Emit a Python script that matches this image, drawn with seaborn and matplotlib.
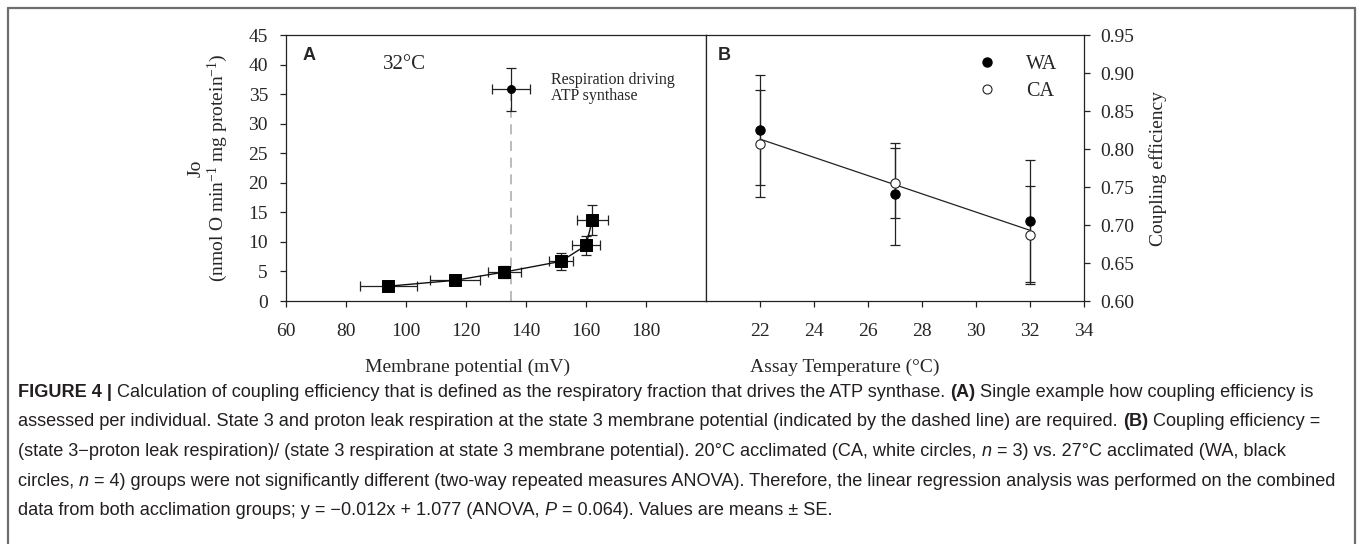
import matplotlib
matplotlib.use('Agg')
from matplotlib import pyplot as plt
from matplotlib.lines import Line2D
import pandas as pd
import seaborn as sns

# panel A: proton leak respiration vs membrane potential at 32 C
leak_mv = [94.0, 116.3, 132.8, 151.6, 160.0, 162.1]
leak_mv_se = [9.5, 8.3, 5.4, 3.9, 4.6, 5.1]
leak_jo = [2.5, 3.5, 4.9, 6.7, 9.4, 13.7]
leak_jo_se = [0.3, 0.5, 1.0, 1.45, 1.55, 2.6]
state3_mv = [134.9]
state3_mv_se = [6.4]
state3_jo = [35.8]
state3_jo_se = [3.7]

# panel B: coupling efficiency vs assay temperature
assay_temp = [22, 27, 32]
wa_eff = [0.825, 0.741, 0.705]
wa_se = [0.073, 0.067, 0.080]
ca_eff = [0.807, 0.755, 0.687]
ca_se = [0.070, 0.046, 0.064]
reg_temp = [22, 32]
reg_eff = [0.813, 0.693]

W, H = 1357, 544

sns.set_theme(style='ticks')
plt.rcParams['font.family'] = ['Liberation Serif', 'DejaVu Serif']
plt.rcParams['mathtext.fontset'] = 'custom'
plt.rcParams['mathtext.rm'] = 'Liberation Serif'
plt.rcParams['mathtext.it'] = 'Liberation Serif:italic'
plt.rcParams['axes.edgecolor'] = '#222222'
plt.rcParams['axes.linewidth'] = 0.9

fig = plt.figure(figsize=(W / 100, H / 100), dpi=100)
axA = fig.add_axes([286 / W, 1 - 301 / H, 420 / W, 266 / H])
axB = fig.add_axes([706 / W, 1 - 301 / H, 378 / W, 266 / H])

# ---- panel A
leak_df = pd.DataFrame({'mv': leak_mv, 'jo': leak_jo})
axA.plot([state3_mv[0], state3_mv[0]], [0, state3_jo[0]], ls=(0, (6, 4)), color='#b0b0b0', lw=1.2, zorder=1)
axA.errorbar(leak_mv, leak_jo, xerr=leak_mv_se, yerr=leak_jo_se, fmt='none',
             ecolor='#222222', elinewidth=0.9, capsize=3.5, capthick=0.9, zorder=2)
sns.lineplot(data=leak_df, x='mv', y='jo', sort=False, color='#111111', lw=1.0, ax=axA, zorder=3)
sns.scatterplot(data=leak_df, x='mv', y='jo', marker='s', s=75, color='black', edgecolor='black', ax=axA, zorder=4)
axA.errorbar(state3_mv, state3_jo, xerr=state3_mv_se, yerr=state3_jo_se, fmt='none',
             ecolor='#222222', elinewidth=0.9, capsize=3.5, capthick=0.9, zorder=2)
sns.scatterplot(x=state3_mv, y=state3_jo, marker='o', s=35, color='black', edgecolor='black', ax=axA, zorder=4)

axA.set_xlim(60, 200)
axA.set_ylim(0, 45)
axA.set_xticks(range(60, 181, 20))
axA.set_yticks(range(0, 46, 5))
axA.tick_params(axis='both', direction='out', length=4, width=0.9, labelsize=14, color='#222222')
axA.tick_params(axis='x', pad=12)
axA.tick_params(axis='y', pad=9)
axA.set_xlabel('')
axA.set_ylabel('')
axA.text(0.433, -0.25, 'Membrane potential (mV)', transform=axA.transAxes, ha='center', va='center', fontsize=14)
axA.text(196 / W, 1 - 168 / H, 'Jo', transform=fig.transFigure, rotation=90, ha='center', va='center', fontsize=14)
axA.text(218 / W, 1 - 168 / H, r'(nmol O min$^{\mathregular{-1}}$ mg protein$^{\mathregular{-1}}$)',
         transform=fig.transFigure, rotation=90, ha='center', va='center', fontsize=14)
axA.text(0.04, 0.955, 'A', transform=axA.transAxes, ha='left', va='top', fontsize=13,
         fontweight='bold', family='Liberation Sans')
axA.text(99.5, 40, '32°C', ha='center', va='center', fontsize=15)
axA.text(148.2, 36.0, 'Respiration driving\nATP synthase', ha='left', va='center', fontsize=11.5, linespacing=1.0)

# ---- panel B
axB.errorbar(assay_temp, wa_eff, yerr=wa_se, fmt='none', ecolor='#222222', elinewidth=0.9,
             capsize=3.5, capthick=0.9, zorder=2)
axB.errorbar(assay_temp, ca_eff, yerr=ca_se, fmt='none', ecolor='#222222', elinewidth=0.9,
             capsize=3.5, capthick=0.9, zorder=2)
sns.lineplot(x=reg_temp, y=reg_eff, color='#222222', lw=0.9, ax=axB, zorder=3)
sns.scatterplot(x=assay_temp, y=wa_eff, marker='o', s=45, color='black', edgecolor='black',
                linewidth=0.8, ax=axB, zorder=4)
sns.scatterplot(x=assay_temp, y=ca_eff, marker='o', s=45, color='white', edgecolor='#222222',
                linewidth=0.8, ax=axB, zorder=5)

axB.set_xlim(20, 34)
axB.set_ylim(0.60, 0.95)
axB.set_xticks(range(22, 35, 2))
axB.set_yticks([0.60, 0.65, 0.70, 0.75, 0.80, 0.85, 0.90, 0.95])
axB.set_yticklabels(['%.2f' % v for v in axB.get_yticks()])
axB.yaxis.tick_right()
axB.tick_params(axis='both', direction='out', length=4, width=0.9, labelsize=14, color='#222222')
axB.tick_params(axis='x', pad=12)
axB.tick_params(axis='y', pad=8)
axB.set_xlabel('')
axB.set_ylabel('')
axB.text(0.368, -0.25, 'Assay Temperature (°C)', transform=axB.transAxes, ha='center', va='center', fontsize=14)
axB.text(1158 / W, 1 - 168 / H, 'Coupling efficiency', transform=fig.transFigure, rotation=90,
         ha='center', va='center', fontsize=14)
axB.text(0.032, 0.955, 'B', transform=axB.transAxes, ha='left', va='top', fontsize=13,
         fontweight='bold', family='Liberation Sans')

handles = [Line2D([], [], ls='none', marker='o', ms=6.5, mfc='black', mec='black'),
           Line2D([], [], ls='none', marker='o', ms=6.5, mfc='white', mec='#222222', mew=0.8)]
axB.legend(handles, ['WA', 'CA'], loc='upper left', bbox_to_anchor=(0.67, 0.994), frameon=False,
           fontsize=14.5, handlelength=1.0, handletextpad=1.4, labelspacing=0.4)

for ax in (axA, axB):
    for s in ax.spines.values():
        s.set_visible(True)
        s.set_color('#222222')

# ---- frame
frame_kw = dict(color='#6e6e6e', lw=1.6, transform=fig.transFigure)
fig.add_artist(Line2D([8 / W, 1355 / W], [1 - 8 / H, 1 - 8 / H], **frame_kw))
fig.add_artist(Line2D([8 / W, 8 / W], [1 - 8 / H, 0], **frame_kw))
fig.add_artist(Line2D([1355 / W, 1355 / W], [1 - 8 / H, 0], **frame_kw))

# ---- caption
cap_lines = [
    [('FIGURE 4 |', 'b'), (' Calculation of coupling efficiency that is defined as the respiratory fraction that drives the ATP synthase. ', 'n'),
     ('(A)', 'b'), (' Single example how coupling efficiency is', 'n')],
    [('assessed per individual. State 3 and proton leak respiration at the state 3 membrane potential (indicated by the dashed line) are required. ', 'n'),
     ('(B)', 'b'), (' Coupling efficiency =', 'n')],
    [('(state 3\u2212proton leak respiration)/ (state 3 respiration at state 3 membrane potential). 20\u00b0C acclimated (CA, white circles, ', 'n'),
     ('n', 'i'), (' = 3) vs. 27\u00b0C acclimated (WA, black', 'n')],
    [('circles, ', 'n'), ('n', 'i'),
     (' = 4) groups were not significantly different (two-way repeated measures ANOVA). Therefore, the linear regression analysis was performed on the combined', 'n')],
    [('data from both acclimation groups; y = \u22120.012x + 1.077 (ANOVA, ', 'n'), ('P', 'i'),
     (' = 0.064). Values are means \u00b1 SE.', 'n')],
]
renderer = fig.canvas.get_renderer()
baselines = [397, 426.5, 456, 485.5, 515]
for parts, yb in zip(cap_lines, baselines):
    x = 18
    for txt, st in parts:
        t = fig.text(x / W, 1 - yb / H, txt, ha='left', va='baseline', fontsize=13.1, color='#231f20',
                     family='Liberation Sans', fontweight='bold' if st == 'b' else 'normal',
                     fontstyle='italic' if st == 'i' else 'normal')
        x = t.get_window_extent(renderer).x1

fig.savefig('out.png', dpi=100)
